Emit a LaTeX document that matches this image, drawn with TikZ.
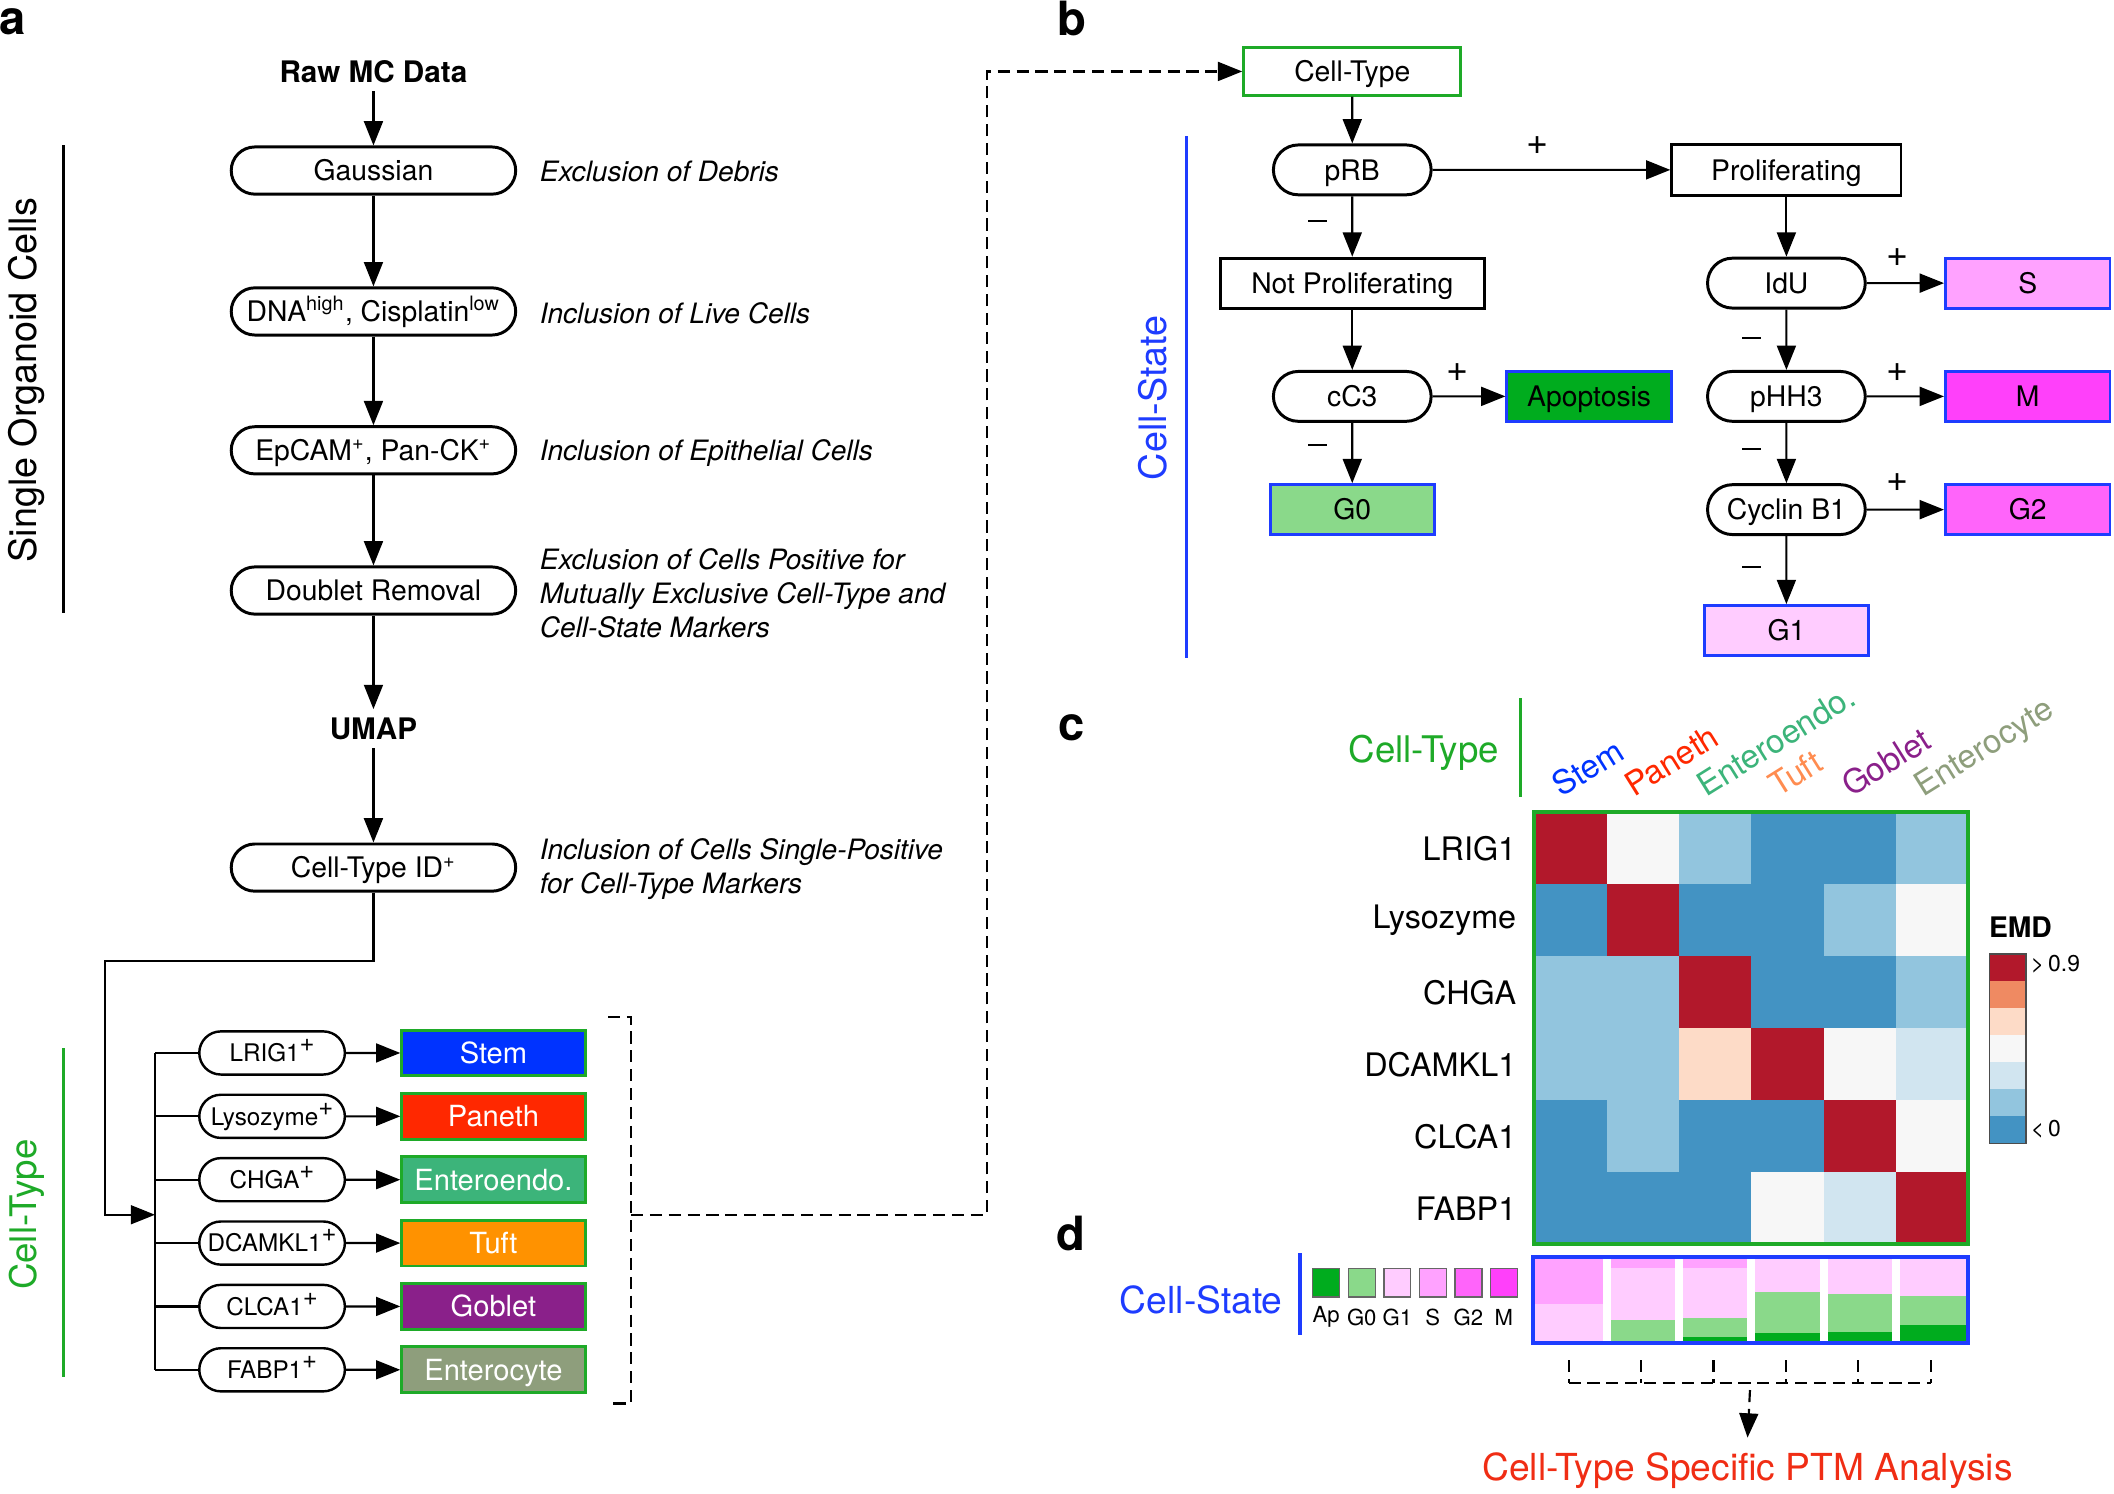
\documentclass[tikz,border=0pt]{standalone}
\usepackage{fontspec}
\setmainfont{TeX Gyre Heros}
\usetikzlibrary{arrows.meta,shapes.misc}

\definecolor{gr}{RGB}{30,170,40}
\definecolor{bl}{RGB}{30,60,255}
\definecolor{cStem}{RGB}{0,51,255}
\definecolor{cPaneth}{RGB}{255,40,0}
\definecolor{cEnt}{RGB}{60,180,122}
\definecolor{cTuft}{RGB}{255,146,0}
\definecolor{cGob}{RGB}{138,32,138}
\definecolor{cEnc}{RGB}{142,158,124}
\definecolor{lTuft}{RGB}{255,140,80}
\definecolor{cAp}{RGB}{0,172,30}
\definecolor{cGz}{RGB}{138,217,138}
\definecolor{cGo}{RGB}{255,204,255}
\definecolor{cS}{RGB}{255,162,255}
\definecolor{cGt}{RGB}{255,100,250}
\definecolor{cM}{RGB}{255,64,250}
\definecolor{ptm}{RGB}{240,45,20}
\definecolor{hm1}{HTML}{B2182B}
\definecolor{hm2}{HTML}{EF8A62}
\definecolor{hm3}{HTML}{FDDBC7}
\definecolor{hm4}{HTML}{F7F7F7}
\definecolor{hm5}{HTML}{D1E5F0}
\definecolor{hm6}{HTML}{92C5DE}
\definecolor{hm7}{HTML}{4393C3}

\newcommand\supplus{\raisebox{0.42em}{\fontsize{9.5}{10}\selectfont+}}
\newcommand\minussign{\rule[0.3em]{7pt}{0.85pt}}

\tikzset{
  arr/.style={-{Triangle[length=9pt,width=7pt]}, line width=0.8pt},
  ln/.style={line width=0.8pt},
  dsh/.style={dash pattern=on 4.5pt off 2.5pt, line width=0.75pt},
  txtc/.style={text height=7.6pt, text depth=0pt},
  pillA/.style={rounded rectangle, draw, line width=1.1pt, minimum width=107.5pt, minimum height=17.5pt, inner sep=1pt, txtc, font=\fontsize{10.5}{12}\selectfont},
  pillB/.style={rounded rectangle, draw, line width=1.1pt, minimum width=60.5pt, minimum height=18.5pt, inner sep=1pt, txtc, font=\fontsize{10.5}{12}\selectfont},
  marker/.style={rounded rectangle, draw, line width=0.9pt, minimum width=56pt, minimum height=16pt, inner sep=1pt, text height=6.6pt, text depth=0pt, font=\fontsize{9}{10}\selectfont},
  ctbox/.style={rectangle, draw=gr, line width=1.1pt, minimum width=68pt, minimum height=17pt, inner sep=1pt, text=white, text height=7.8pt, text depth=0pt, font=\fontsize{10.8}{12}\selectfont},
  rbox/.style={rectangle, draw, line width=1.1pt, minimum height=18.5pt, inner sep=1pt, txtc, font=\fontsize{10.5}{12}\selectfont},
  sbox/.style={rectangle, draw=bl, line width=1.1pt, minimum width=61pt, minimum height=18.5pt, inner sep=1pt, txtc, font=\fontsize{10.5}{12}\selectfont},
  note/.style={anchor=west, inner sep=0pt, align=left, font=\itshape\fontsize{10.4}{12.75}\selectfont},
  sign/.style={inner sep=0pt, font=\fontsize{14}{16}\selectfont},
  letter/.style={inner sep=0pt, font=\bfseries\fontsize{17.5}{20}\selectfont},
  side/.style={rotate=90, inner sep=0pt, font=\fontsize{14}{16}\selectfont},
  rowlab/.style={anchor=east, inner sep=0pt, font=\fontsize{12}{14}\selectfont},
  collab/.style={rotate=32, anchor=base west, inner sep=0pt, font=\fontsize{12.2}{14}\selectfont},
  leg/.style={inner sep=0pt, font=\fontsize{8.2}{10}\selectfont},
}

\begin{document}
\begin{tikzpicture}[x=0.5pt,y=-0.5pt]
\useasboundingbox (0,0) rectangle (1568,1107.6);

% ---------------- Panel a ----------------
\node[letter] (la) at (9.5,16.5) {a};
\node[side] (soc) at (20,282) {Single Organoid Cells};
\coordinate (socT) at (47,107.6);
\coordinate (socB) at (47,455);
\draw[line width=1pt] (socT) -- (socB);
\node[side, text=gr, font=\fontsize{13.6}{16}\selectfont] (ctl) at (20,901) {Cell-Type};
\coordinate (ctlT) at (47,777.5);
\coordinate (ctlB) at (47,1021);
\draw[gr, line width=1pt] (ctlT) -- (ctlB);

\node[inner sep=3pt, font=\bfseries\fontsize{11}{13}\selectfont] (raw) at (277,53) {Raw MC Data};
\node[pillA] (gauss) at (277,126.5) {Gaussian};
\node[pillA] (dna) at (277,231) {DNA\textsuperscript{high}, Cisplatin\textsuperscript{low}};
\node[pillA] (epcam) at (277,334) {EpCAM\textsuperscript{+}, Pan-CK\textsuperscript{+}};
\node[pillA] (doublet) at (277,438) {Doublet Removal};
\node[inner sep=3pt, font=\bfseries\fontsize{11}{13}\selectfont] (umap) at (277,540.5) {UMAP};
\node[pillA] (ctid) at (277,643.5) {Cell-Type ID\textsuperscript{+}};

\node[note] (n1) at (400,127.5) {Exclusion of Debris};
\node[note] (n2) at (400,232) {Inclusion of Live Cells};
\node[note] (n3) at (400,336) {Inclusion of Epithelial Cells};
\node[note] (n4) at (400,440) {Exclusion of Cells Positive for\\Mutually Exclusive Cell-Type and\\Cell-State Markers};
\node[note] (n5) at (400,644.5) {Inclusion of Cells Single-Positive\\for Cell-Type Markers};

\draw[arr] (raw.south) -- (gauss.north);
\draw[arr] (gauss.south) -- (dna.north);
\draw[arr] (dna.south) -- (epcam.north);
\draw[arr] (epcam.south) -- (doublet.north);
\draw[arr] (doublet.south) -- (umap.north);
\draw[arr] (umap.south) -- (ctid.north);

\coordinate (elbow) at (78,713);
\coordinate (busmid) at (115,901);
\coordinate (bustop) at (115,781);
\coordinate (busbot) at (115,1016);
\draw[arr] (ctid.south) |- (elbow) |- (busmid);
\draw[ln] (bustop) -- (busbot);

\foreach \n/\t/\y/\col/\lab in {1/LRIG1/781/cStem/Stem, 2/Lysozyme/828/cPaneth/Paneth, 3/CHGA/875/cEnt/Enteroendo., 4/DCAMKL1/922/cTuft/Tuft, 5/CLCA1/969/cGob/Goblet, 6/FABP1/1016/cEnc/Enterocyte}{
  \node[marker] (mk\n) at (201.8,\y) {\t\supplus};
  \node[ctbox, fill=\col] (ct\n) at (366,\y) {\lab};
  \draw[arr] (mk\n) -- (ct\n);
  \draw[ln] (busmid |- mk\n.west) -- (mk\n.west);
}

\coordinate (bra) at (451,754);
\coordinate (brb) at (468,754);
\coordinate (brc) at (468,1041);
\coordinate (brd) at (451,1041);
\coordinate (brm) at (468,901);
\coordinate (dc) at (732,901);
\draw[dsh] (bra) -- (brb) -- (brc) -- (brd);

% ---------------- Panel b ----------------
\node[letter] (lb) at (795,14) {b};
\node[rbox, draw=gr, minimum width=80.5pt, minimum height=17.5pt] (ctb) at (1003,53) {Cell-Type};
\draw[dsh,arr] (brm) -- (dc) |- (ctb.west);

\node[side, text=bl] (csl) at (855,295) {Cell-State};
\coordinate (cslT) at (880,101);
\coordinate (cslB) at (880,488);
\draw[bl, line width=1.2pt] (cslT) -- (cslB);

\node[pillB] (prb) at (1003,126) {pRB};
\node[rbox, minimum width=85pt, minimum height=19pt] (prolif) at (1325,126) {Proliferating};
\node[rbox, minimum width=98pt] (notp) at (1003,210) {Not Proliferating};
\node[pillB] (cc3) at (1003,294) {cC3};
\node[sbox, fill=cAp] (apop) at (1178.7,294) {Apoptosis};
\node[sbox, fill=cGz] (g0) at (1003,378) {G0};
\node[pillB] (idu) at (1325,210) {IdU};
\node[sbox, fill=cS] (sb) at (1504,210) {S};
\node[pillB] (phh3) at (1325,294) {pHH3};
\node[sbox, fill=cM] (mb) at (1504,294) {M};
\node[pillB] (cyc) at (1325,378) {Cyclin B1};
\node[sbox, fill=cGt] (g2b) at (1504,378) {G2};
\node[sbox, fill=cGo] (g1b) at (1325,467.7) {G1};

\draw[arr] (ctb) -- (prb);
\draw[arr] (prb) -- (prolif);
\draw[arr] (prb) -- (notp);
\draw[arr] (notp) -- (cc3);
\draw[arr] (cc3) -- (apop);
\draw[arr] (cc3) -- (g0);
\draw[arr] (prolif) -- (idu);
\draw[arr] (idu) -- (sb);
\draw[arr] (idu) -- (phh3);
\draw[arr] (phh3) -- (mb);
\draw[arr] (phh3) -- (cyc);
\draw[arr] (cyc) -- (g2b);
\draw[arr] (cyc) -- (g1b);

\node[sign] (p1) at (1140.7,108) {+};
\node[sign] (p2) at (1080.7,276.5) {+};
\node[sign] (p3) at (1407.4,191) {+};
\node[sign] (p4) at (1407.4,276.5) {+};
\node[sign] (p5) at (1407.4,358) {+};
\node[sign] (m1) at (977.4,168) {\minussign};
\node[sign] (m2) at (977.4,334.4) {\minussign};
\node[sign] (m3) at (1299.4,255) {\minussign};
\node[sign] (m4) at (1299.4,337) {\minussign};
\node[sign] (m5) at (1299.4,424.8) {\minussign};

% ---------------- Panel c ----------------
\node[letter] (lc) at (794.5,540) {c};
\node[inner sep=0pt, text=gr, font=\fontsize{13.6}{16}\selectfont] (ctc) at (1056,558) {Cell-Type};
\coordinate (ctcT) at (1127.6,518);
\coordinate (ctcB) at (1127.6,591);
\draw[gr, line width=1.3pt] (ctcT) -- (ctcB);

\foreach \rowvals [count=\r from 0] in {{1,4,6,7,7,6},{7,1,7,7,6,4},{6,6,1,7,7,6},{6,6,3,1,4,5},{7,6,7,7,1,4},{7,7,7,4,5,1}}{
  \foreach \v [count=\c from 0] in \rowvals {
    \fill[hm\v] ({1138+53.67*\c},{602.5+53.42*\r}) rectangle ({1138+53.67*(\c+1)},{602.5+53.42*(\r+1)});
  }
}
\node[draw=gr, line width=1.5pt, minimum width=161pt, minimum height=160.25pt, inner sep=0pt] (heat) at (1299,762.75) {};

\foreach \t [count=\r from 0] in {LRIG1,Lysozyme,CHGA,DCAMKL1,CLCA1,FABP1}{
  \node[rowlab] (rl\r) at (1125,{629.2+53.42*\r}) {\t};
}
\foreach \t/\col [count=\c from 0] in {Stem/cStem, Paneth/cPaneth, Enteroendo./cEnt, Tuft/lTuft, Goblet/cGob, Enterocyte/cEnc}{
  \node[collab, text=\col] (cl\c) at ({1138+53.67*\c+20},592) {\t};
}

% legend
\node[inner sep=0pt, font=\bfseries\fontsize{10.5}{12}\selectfont] (emd) at (1498.6,688) {EMD};
\foreach \v [count=\k from 0] in {1,...,7}{
  \fill[hm\v] (1475.4,{707.6+20.06*\k}) rectangle (1502.8,{707.6+20.06*(\k+1)});
}
\node[draw=black!70, line width=0.5pt, minimum width=13.7pt, minimum height=70.2pt, inner sep=0pt] (cbar) at (1489.1,777.8) {};
\node[anchor=west, inner sep=0pt, font=\fontsize{8.5}{10}\selectfont] (gt) at (1506,715.3) {>\,0.9};
\node[anchor=west, inner sep=0pt, font=\fontsize{8.5}{10}\selectfont] (lt) at (1506,837.6) {<\,0};

% ---------------- Panel d ----------------
\node[letter] (ld) at (794.5,915) {d};
\node[inner sep=0pt, text=bl, font=\fontsize{13.8}{16}\selectfont] (csd) at (891,964) {Cell-State};
\coordinate (csdT) at (964.2,929.5);
\coordinate (csdB) at (964.2,990);
\draw[bl, line width=1.3pt] (csdT) -- (csdB);

\foreach \col/\lab [count=\k from 0] in {cAp/Ap, cGz/G0, cGo/G1, cS/S, cGt/G2, cM/M}{
  \node[draw=black!60, fill=\col, line width=0.5pt, minimum width=10pt, minimum height=10.5pt, inner sep=0pt] (sq\k) at ({983.7+26.35*\k},951.6) {};
  \node[leg] (sl\k) at ({983.7+26.35*\k},977) {\lab};
}

% stacked bars
\foreach \i/\col/\fa/\fb in {
  0/cS/-0.03/0.56, 0/cGo/0.56/1.04,
  1/cS/-0.03/0.10, 1/cGo/0.10/0.755, 1/cGz/0.755/1.04,
  2/cS/-0.03/0.10, 2/cGo/0.10/0.73, 2/cGz/0.73/0.97, 2/cAp/0.97/1.04,
  3/cGo/-0.03/0.40, 3/cGz/0.40/0.925, 3/cAp/0.925/1.04,
  4/cGo/-0.03/0.433, 4/cGz/0.433/0.903, 4/cAp/0.903/1.04,
  5/cGo/-0.03/0.458, 5/cGz/0.458/0.824, 5/cAp/0.824/1.04}{
  \fill[\col] ({1138+53.67*\i},{934.7+58.6*\fa}) rectangle ({1138+53.67*(\i+1)},{934.7+58.6*\fb});
}
\foreach \k in {1,...,5}{
  \draw[white, line width=3pt] ({1138+53.67*\k},933) -- ({1138+53.67*\k},995);
}
\node[draw=bl, line width=1.5pt, minimum width=161.3pt, minimum height=31.9pt, inner sep=0pt] (bars) at (1298.3,964.1) {};

% dashed collector
\foreach \k in {0,...,5}{
  \coordinate (tt\k) at ({1163.4+53.76*\k},1009);
  \coordinate (tb\k) at ({1163.4+53.76*\k},1025.7);
  \draw[dsh] (tt\k) -- (tb\k);
}
\draw[dsh] (tb0) -- (tb5);
\coordinate (ptmtop) at (1298,1031);
\node[inner sep=5.5pt, text=ptm, font=\fontsize{13.8}{16}\selectfont] (ptmt) at (1296.2,1091) {Cell-Type Specific PTM Analysis};
\draw[dsh,arr] (ptmtop) -- (ptmt.north);

\end{tikzpicture}
\end{document}
